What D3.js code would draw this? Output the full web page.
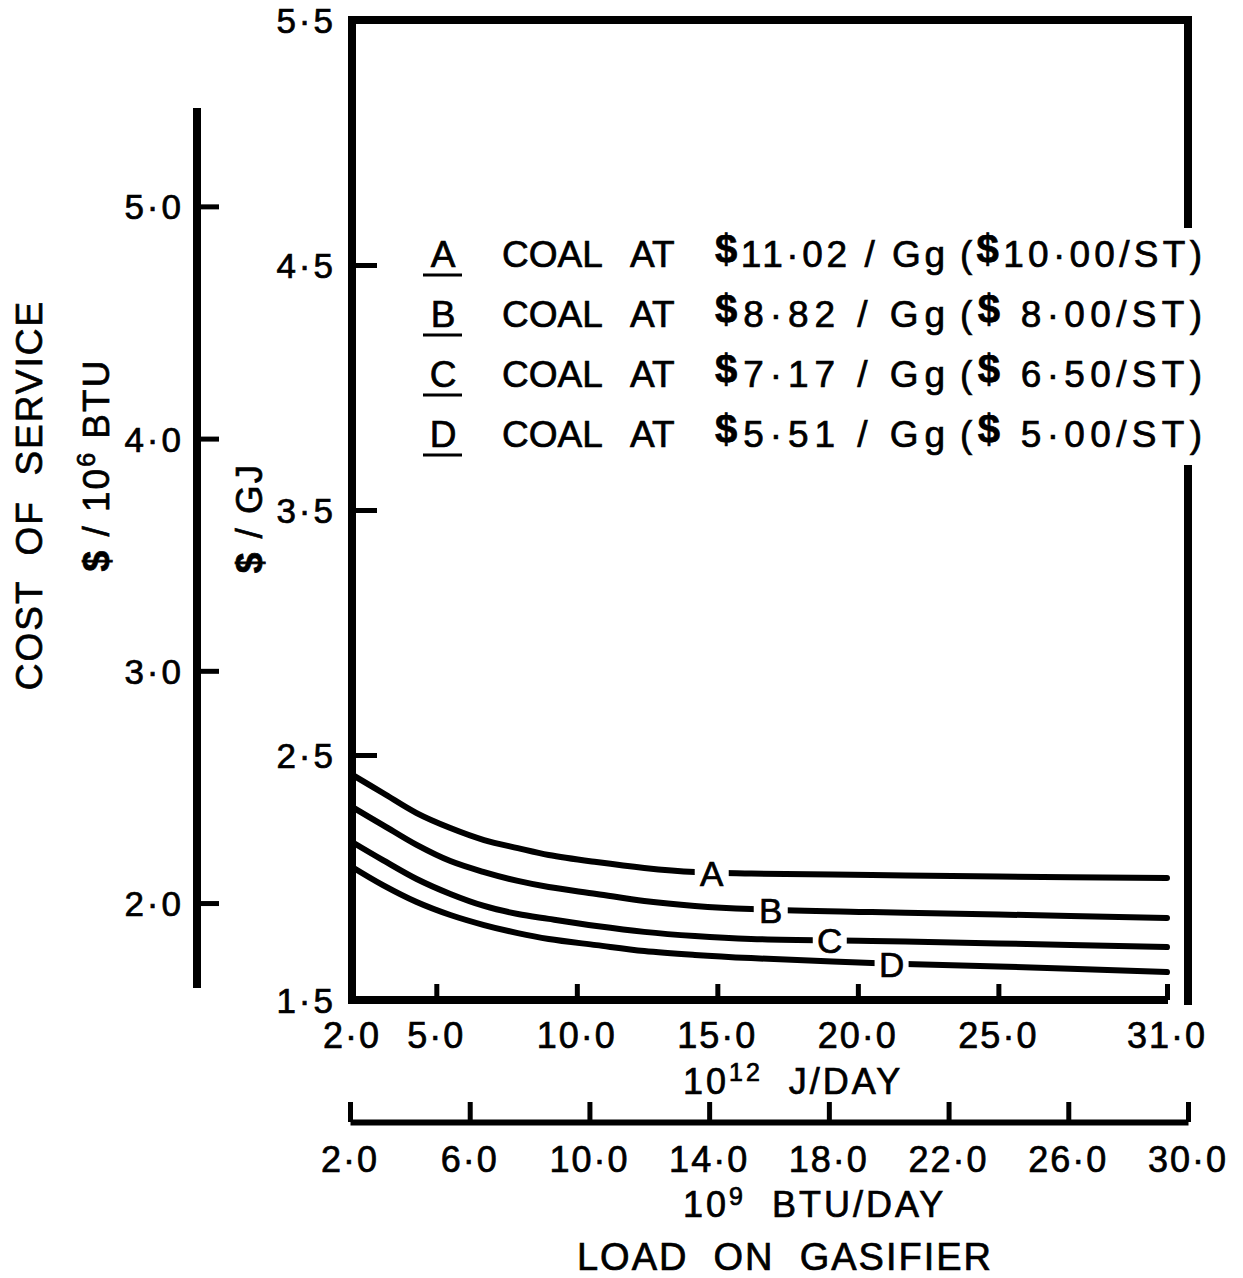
<!DOCTYPE html>
<html>
<head>
<meta charset="utf-8">
<script src="https://cdn.jsdelivr.net/npm/d3@7"></script>
<style>
    body { margin: 0; background: #fff; }
    text { font-family: "Liberation Sans", Arial, sans-serif; fill: #000; stroke: #000; stroke-width: 0.7px; white-space: pre; }
</style>
</head>
<body>
<div id="graphic"></div>
<script>
// Load on gasifier (10^12 J/day) where the curves were read
var loadJ = [2.0, 3.1, 4.3, 5.5, 6.7, 7.9, 9.0, 10.7, 12.4, 14.2, 16.2, 20.5, 25.0, 31.0];

// Cost of service, $/GJ, one list per coal price
var costA = [2.42, 2.345, 2.263, 2.202, 2.153, 2.12, 2.092, 2.063, 2.039, 2.022, 2.016, 2.01, 2.004, 1.998];
var costB = [2.288, 2.214, 2.133, 2.067, 2.022, 1.986, 1.961, 1.933, 1.904, 1.884, 1.871, 1.859, 1.849, 1.835];
var costC = [2.145, 2.071, 1.994, 1.933, 1.884, 1.851, 1.831, 1.802, 1.778, 1.761, 1.749, 1.741, 1.731, 1.716];
var costD = [2.043, 1.969, 1.90, 1.847, 1.806, 1.773, 1.749, 1.724, 1.70, 1.684, 1.671, 1.651, 1.637, 1.614];

// where the letter sits on each curve (10^12 J/day)
var curveNames = ['A', 'B', 'C', 'D'];
var labelLoad = [14.8, 16.9, 19.0, 21.2];

// legend texts
var priceGg = ['11·02 / Gg', '8·82 / Gg', '7·17 / Gg', '5·51 / Gg'];
var priceST = ['10·00/ST)', ' 8·00/ST)', ' 6·50/ST)', ' 5·00/ST)'];

// tick values
var gjLabels = [1.5, 2.5, 3.5, 4.5, 5.5];
var gjTicks = [2.5, 3.5, 4.5];
var btuCostTicks = [2.0, 3.0, 4.0, 5.0];
var jTicks = [2.0, 5.0, 10.0, 15.0, 20.0, 25.0, 31.0];
var btuLoadTicks = [2.0, 6.0, 10.0, 14.0, 18.0, 22.0, 26.0, 30.0];

var svgWidth = 1243;
var svgHeight = 1278;

var svg = d3.select("#graphic")
    .append("svg")
    .attr("width", svgWidth)
    .attr("height", svgHeight);

var chart = svg.append("g");

// scales
var xScale = d3.scaleLinear().domain([2, 31]).range([352, 1167]);
var xBtuScale = d3.scaleLinear().domain([2, 30]).range([350, 1188]);
var yScale = d3.scaleLinear().domain([1.5, 5.5]).range([1000, 20]);
// 1 $/GJ = 1.055 $/10^6 BTU
var yBtuScale = d3.scaleLinear().domain([1.5 * 1.055, 5.5 * 1.055]).range([1000, 20]);

var fmt = function(v) { return d3.format(".1f")(v).replace(".", "·"); };

// frame of the plot
var frameRight = 1188;
var frame = [
    [[352, 16], [352, 1004]],
    [[348, 20], [frameRight + 4, 20]],
    [[frameRight, 16], [frameRight, 228]],
    [[frameRight, 465], [frameRight, 1005]],
    [[348, 1000], [1168, 1000]]
];
chart.selectAll(".frame")
    .data(frame)
    .enter()
    .append("line")
    .attr("class", "frame")
    .attr("x1", function(d) { return d[0][0]; })
    .attr("y1", function(d) { return d[0][1]; })
    .attr("x2", function(d) { return d[1][0]; })
    .attr("y2", function(d) { return d[1][1]; })
    .attr("stroke", "black")
    .attr("stroke-width", 8);

// inner $/GJ axis: ticks inside, labels outside
var gjTickAxis = chart.append("g")
    .attr("transform", "translate(352,0)")
    .call(d3.axisRight(yScale).tickValues(gjTicks).tickSize(25).tickFormat(""));
gjTickAxis.select(".domain").remove();
gjTickAxis.selectAll("line").attr("stroke-width", 5);

chart.selectAll(".gjLabel")
    .data(gjLabels)
    .enter()
    .append("text")
    .attr("class", "gjLabel")
    .attr("x", 336)
    .attr("y", function(d) { return yScale(d) + 13; })
    .attr("text-anchor", "end")
    .style("font-size", "35px")
    .style("letter-spacing", "3px")
    .text(fmt);

// outer $/10^6 BTU axis
chart.append("line")
    .attr("x1", 197).attr("x2", 197)
    .attr("y1", 108).attr("y2", 988)
    .attr("stroke", "black")
    .attr("stroke-width", 8);

var btuTickAxis = chart.append("g")
    .attr("transform", "translate(197,0)")
    .call(d3.axisRight(yBtuScale).tickValues(btuCostTicks).tickSize(22).tickFormat(""));
btuTickAxis.select(".domain").remove();
btuTickAxis.selectAll("line").attr("stroke-width", 5);

chart.selectAll(".btuLabel")
    .data(btuCostTicks)
    .enter()
    .append("text")
    .attr("class", "btuLabel")
    .attr("x", 184)
    .attr("y", function(d) { return yBtuScale(d) + 13; })
    .attr("text-anchor", "end")
    .style("font-size", "35px")
    .style("letter-spacing", "3px")
    .text(fmt);

// y titles (rotated)
chart.append("text")
    .attr("transform", "translate(42,495) rotate(-90)")
    .attr("text-anchor", "middle")
    .style("font-size", "37px")
    .style("letter-spacing", "2px")
    .text("COST  OF  SERVICE");

var yTitle2 = chart.append("text")
    .attr("transform", "translate(109,465) rotate(-90)")
    .attr("text-anchor", "middle")
    .style("font-size", "37px")
    .style("letter-spacing", "2px");
yTitle2.append("tspan").style("font-weight", "bold").text("$");
yTitle2.append("tspan").text(" / 10");
yTitle2.append("tspan").attr("dy", -14).style("font-size", "25px").text("6");
yTitle2.append("tspan").attr("dy", 14).text(" BTU");

var yTitle3 = chart.append("text")
    .attr("transform", "translate(262,518) rotate(-90)")
    .attr("text-anchor", "middle")
    .style("font-size", "37px")
    .style("letter-spacing", "2px");
yTitle3.append("tspan").style("font-weight", "bold").text("$");
yTitle3.append("tspan").text(" / GJ");

// bottom 10^12 J/day axis: ticks point up into the plot
var jAxis = chart.append("g")
    .attr("transform", "translate(0,1000)")
    .call(d3.axisTop(xScale).tickValues(jTicks.slice(1)).tickSize(16).tickFormat(""));
jAxis.select(".domain").remove();
jAxis.selectAll("line").attr("stroke-width", 5);

chart.selectAll(".jLabel")
    .data(jTicks)
    .enter()
    .append("text")
    .attr("class", "jLabel")
    .attr("x", function(d) { return xScale(d); })
    .attr("y", 1048)
    .attr("text-anchor", "middle")
    .style("font-size", "36px")
    .style("letter-spacing", "2px")
    .text(fmt);

var jTitle = chart.append("text")
    .attr("x", 683)
    .attr("y", 1094)
    .style("font-size", "36px")
    .style("letter-spacing", "3px");
jTitle.append("tspan").text("10");
jTitle.append("tspan").attr("dy", -13).style("font-size", "25px").text("12");
jTitle.append("tspan").attr("dy", 13).text("  J/DAY");

// second scale: 10^9 BTU/day
var btuAxis = chart.append("g")
    .attr("transform", "translate(0,1122)")
    .call(d3.axisTop(xBtuScale).tickValues(btuLoadTicks).tickSize(20).tickSizeOuter(0).tickFormat(""));
btuAxis.select(".domain").attr("stroke-width", 6);
btuAxis.selectAll("line").attr("stroke-width", 5);

chart.selectAll(".btuLoadLabel")
    .data(btuLoadTicks)
    .enter()
    .append("text")
    .attr("class", "btuLoadLabel")
    .attr("x", function(d) { return xBtuScale(d); })
    .attr("y", 1172)
    .attr("text-anchor", "middle")
    .style("font-size", "36px")
    .style("letter-spacing", "2px")
    .text(fmt);

var btuTitle = chart.append("text")
    .attr("x", 683)
    .attr("y", 1217)
    .style("font-size", "36px")
    .style("letter-spacing", "3px");
btuTitle.append("tspan").text("10");
btuTitle.append("tspan").attr("dy", -12).style("font-size", "25px").text("9");
btuTitle.append("tspan").attr("dy", 12).text("  BTU/DAY");

chart.append("text")
    .attr("x", 785)
    .attr("y", 1270)
    .attr("text-anchor", "middle")
    .style("font-size", "38px")
    .style("letter-spacing", "2px")
    .text("LOAD  ON  GASIFIER");

// curves
var series = [costA, costB, costC, costD];
var line = d3.line()
    .x(function(d) { return xScale(d[0]); })
    .y(function(d) { return yScale(d[1]); })
    .curve(d3.curveCatmullRom.alpha(0.5));

chart.selectAll(".curve")
    .data(series)
    .enter()
    .append("path")
    .attr("class", "curve")
    .attr("d", function(data) { return line(data.map(function(v, i) { return [loadJ[i], v]; })); })
    .attr("fill", "none")
    .attr("stroke", "black")
    .attr("stroke-width", 6)
    .attr("stroke-linecap", "round");

// value on a curve at a given load (straight between read points)
function valueAt(values, x) {
    var i = d3.bisectLeft(loadJ, x);
    var t = (x - loadJ[i - 1]) / (loadJ[i] - loadJ[i - 1]);
    return values[i - 1] + t * (values[i] - values[i - 1]);
}

// letters break the curves
var curveLabel = chart.selectAll(".curveLabel")
    .data(curveNames)
    .enter()
    .append("g")
    .attr("class", "curveLabel")
    .attr("transform", function(d, i) {
        return "translate(" + xScale(labelLoad[i]) + "," + yScale(valueAt(series[i], labelLoad[i])) + ")";
    });
curveLabel.append("rect")
    .attr("x", -17).attr("y", -13)
    .attr("width", 34).attr("height", 26)
    .attr("fill", "white");
curveLabel.append("text")
    .attr("y", 13)
    .attr("text-anchor", "middle")
    .style("font-size", "35px")
    .text(function(d) { return d; });

// legend
var legend = chart.selectAll(".legendRow")
    .data(curveNames)
    .enter()
    .append("g")
    .attr("class", "legendRow")
    .attr("transform", function(d, i) { return "translate(0," + (267 + i * 60) + ")"; });

legend.append("text")
    .attr("x", 443)
    .attr("text-anchor", "middle")
    .style("font-size", "37px")
    .text(function(d) { return d; });
legend.append("line")
    .attr("x1", 423).attr("x2", 462)
    .attr("y1", 8).attr("y2", 8)
    .attr("stroke", "black")
    .attr("stroke-width", 3);
legend.append("text")
    .attr("x", 502)
    .style("font-size", "37px")
    .text("COAL");
legend.append("text")
    .attr("x", 630)
    .style("font-size", "37px")
    .text("AT");

var priceText = legend.append("text")
    .attr("x", 715)
    .attr("textLength", 230)
    .attr("lengthAdjust", "spacing")
    .style("font-size", "37px");
priceText.append("tspan").style("font-weight", "bold").style("font-size", "40px").attr("dy", -4).text("$");
priceText.append("tspan").attr("dy", 4).text(function(d, i) { return priceGg[i]; });

var stText = legend.append("text")
    .attr("x", 960)
    .attr("textLength", 242)
    .attr("lengthAdjust", "spacing")
    .style("font-size", "37px");
stText.append("tspan").text("(");
stText.append("tspan").style("font-weight", "bold").style("font-size", "40px").attr("dy", -4).text("$");
stText.append("tspan").attr("dy", 4).text(function(d, i) { return priceST[i]; });
</script>
</body>
</html>
